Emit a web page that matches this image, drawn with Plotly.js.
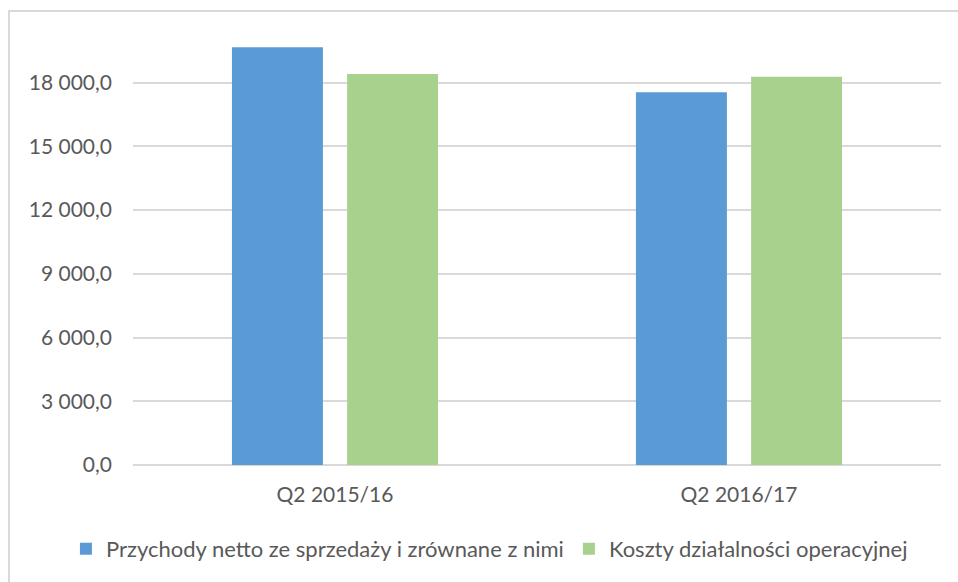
<!DOCTYPE html>
<html>
<head>
<meta charset="utf-8">
<script src="https://cdn.plot.ly/plotly-3.0.1.min.js"></script>
<style>
  html, body { margin: 0; padding: 0; background: #ffffff; }
  #wrap { position: relative; width: 958px; height: 582px; overflow: hidden; }
  #frame { position: absolute; left: 8px; top: 10px; width: 1000px; height: 700px;
           border-left: 2px solid #d9d9d9; border-top: 2px solid #d9d9d9; box-sizing: border-box; pointer-events: none; }
  #chart { position: absolute; left: 0; top: 0; width: 958px; height: 582px; }
</style>
</head>
<body>
<div id="wrap">
  <div id="chart"></div>
  <div id="frame"></div>
</div>
<script>
const categories = ["Q2 2015/16", "Q2 2016/17"];
const seriesNames = ["Przychody netto ze sprzedaży i zrównane z nimi", "Koszty działalności operacyjnej"];
const przychody = [19670, 17550];
const koszty = [18410, 18280];
const yTicks = [0, 3000, 6000, 9000, 12000, 15000, 18000];

const font = "Lato, 'Open Sans', sans-serif";
const textColor = "#595959";

const traces = [
  { type: "bar", name: seriesNames[0], x: categories, y: przychody,
    marker: { color: "#5B9BD5" }, hoverinfo: "y" },
  { type: "bar", name: seriesNames[1], x: categories, y: koszty,
    marker: { color: "#A9D18E" }, hoverinfo: "y" }
];

const layout = {
  width: 958, height: 582,
  margin: { l: 133, r: 17, t: 19, b: 117, autoexpand: false },
  paper_bgcolor: "#ffffff", plot_bgcolor: "#ffffff",
  separators: ", ",
  barmode: "group",
  bargap: 0.43,
  bargroupgap: 0.21,
  font: { family: font, size: 21, color: textColor },
  showlegend: true,
  legend: { orientation: "h", x: -0.083, xanchor: "left", y: -0.188, yanchor: "middle",
            itemwidth: 30,
            font: { family: font, size: 22, color: textColor }, traceorder: "normal" },
  xaxis: { type: "category", showgrid: false, zeroline: false, showline: false,
           ticks: "", ticklabelstandoff: 15,
           tickfont: { family: font, size: 21, color: textColor } },
  yaxis: { range: [0, 21000], tickvals: yTicks, tickformat: ",.1f",
           showgrid: true, gridcolor: "#d9d9d9", gridwidth: 2,
           zeroline: true, zerolinecolor: "#d9d9d9", zerolinewidth: 2,
           showline: false, ticks: "", ticklabelstandoff: 20,
           tickfont: { family: font, size: 21, color: textColor } }
};

Plotly.newPlot("chart", traces, layout, { displayModeBar: false, staticPlot: true });
</script>
</body>
</html>
